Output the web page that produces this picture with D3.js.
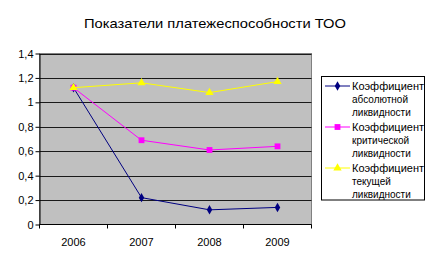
<!DOCTYPE html>
<html>
<head>
<meta charset="utf-8">
<script src="https://cdn.jsdelivr.net/npm/d3@7"></script>
<style>
  body { margin: 0; background: #fff; }
  svg { display: block; font-family: "Liberation Sans", Arial, sans-serif; }
</style>
</head>
<body>
<svg id="chart" width="430" height="260"></svg>
<script>
// data
var years = ["2006", "2007", "2008", "2009"];
var absolute = [1.12, 0.22, 0.12, 0.14];
var critical = [1.12, 0.69, 0.61, 0.64];
var current = [1.12, 1.16, 1.08, 1.17];
var yTicks = [0, 0.2, 0.4, 0.6, 0.8, 1, 1.2, 1.4];
var seriesNames = [
  ["Коэффициент", "абсолютной", "ликвидности"],
  ["Коэффициент", "критической", "ликвидности"],
  ["Коэффициент", "текущей", "ликвидности"]
];

var series = [
  { values: absolute, color: "#000080", shape: d3.symbolDiamond, size: 26, name: seriesNames[0] },
  { values: critical, color: "#FF00FF", shape: d3.symbolSquare, size: 34, name: seriesNames[1] },
  { values: current, color: "#FFFF00", shape: d3.symbolTriangle, size: 30, name: seriesNames[2] }
];

var svg = d3.select("#chart");
var plotL = 39.5, plotR = 311.5, plotT = 53.5, plotB = 224.5;

var x = d3.scaleBand().domain(years).range([plotL, plotR]);
var y = d3.scaleLinear().domain([0, 1.4]).range([plotB, plotT]);

svg.append("text")
  .attr("x", 215).attr("y", 28)
  .attr("text-anchor", "middle")
  .style("font-size", "13.5px")
  .attr("textLength", 262)
  .attr("lengthAdjust", "spacingAndGlyphs")
  .text("Показатели платежеспособности ТОО");

// plot background
svg.append("rect")
  .attr("x", plotL).attr("y", plotT)
  .attr("width", plotR - plotL).attr("height", plotB - plotT)
  .attr("fill", "#C0C0C0")
  .attr("stroke", "#808080");

// gridlines
svg.append("g").selectAll("line")
  .data(yTicks.slice(1))
  .join("line")
  .attr("x1", plotL).attr("x2", plotR)
  .attr("y1", function(d) { return Math.round(y(d)) + 0.5; })
  .attr("y2", function(d) { return Math.round(y(d)) + 0.5; })
  .attr("stroke", "#1a1a1a");

// y axis
var yAxis = svg.append("g")
  .attr("transform", "translate(" + plotL + ",0)")
  .call(d3.axisLeft(y).tickValues(yTicks).tickSize(4).tickSizeOuter(0)
    .tickFormat(function(d) { return String(d).replace(".", ","); }));
yAxis.selectAll("text").style("font-size", "11px").attr("x", -6);
yAxis.select(".domain").attr("stroke", "#000");

// x axis with ticks between categories
var xAxis = svg.append("g")
  .attr("transform", "translate(0," + plotB + ")");
xAxis.append("line")
  .attr("x1", plotL).attr("x2", plotR)
  .attr("stroke", "#000");
xAxis.selectAll("line.tk")
  .data(d3.range(years.length + 1))
  .join("line")
  .attr("class", "tk")
  .attr("x1", function(i) { return plotL + i * x.bandwidth(); })
  .attr("x2", function(i) { return plotL + i * x.bandwidth(); })
  .attr("y1", 0).attr("y2", 4)
  .attr("stroke", "#000");
xAxis.selectAll("text")
  .data(years)
  .join("text")
  .attr("x", function(d) { return x(d) + x.bandwidth() / 2; })
  .attr("y", 21)
  .attr("text-anchor", "middle")
  .style("font-size", "11px")
  .text(function(d) { return d; });

var line = d3.line()
  .x(function(d, i) { return x(years[i]) + x.bandwidth() / 2; })
  .y(function(d) { return y(d); });

series.forEach(function(s) {
  svg.append("path")
    .datum(s.values)
    .attr("d", line)
    .attr("fill", "none")
    .attr("stroke", s.color)
    .attr("stroke-width", 1);
  svg.append("g").selectAll("path")
    .data(s.values)
    .join("path")
    .attr("transform", function(d, i) {
      return "translate(" + (x(years[i]) + x.bandwidth() / 2) + "," + y(d) + ")";
    })
    .attr("d", d3.symbol().type(s.shape).size(s.size))
    .attr("fill", s.color);
});

// legend
var lg = svg.append("g");
lg.append("rect")
  .attr("x", 321.5).attr("y", 76.5)
  .attr("width", 103).attr("height", 123.5)
  .attr("fill", "#fff").attr("stroke", "#000");

series.forEach(function(s, k) {
  var yy = 86 + k * 41;
  lg.append("line")
    .attr("x1", 325).attr("x2", 350)
    .attr("y1", yy).attr("y2", yy)
    .attr("stroke", s.color);
  lg.append("path")
    .attr("transform", "translate(337.5," + yy + ")")
    .attr("d", d3.symbol().type(s.shape).size(s.size))
    .attr("fill", s.color);
  s.name.forEach(function(t, j) {
    lg.append("text")
      .attr("x", 352).attr("y", yy + 4 + j * 13)
      .style("font-size", "10px")
      .attr("textLength", j == 0 ? 72 : null)
      .attr("lengthAdjust", "spacingAndGlyphs")
      .text(t);
  });
});
</script>
</body>
</html>
